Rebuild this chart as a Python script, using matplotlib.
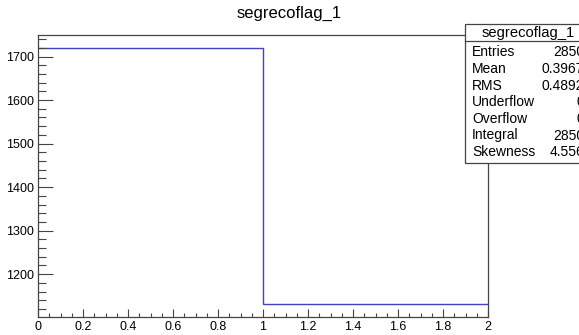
import matplotlib
matplotlib.use('Agg')
import matplotlib.pyplot as plt
from matplotlib.ticker import MultipleLocator
import numpy as np

plt.rcParams['font.family'] = ['Liberation Sans', 'DejaVu Sans']

# histogram contents
bin_edges = [0, 1, 2]
bin_counts = [1720, 1131]
hist_name = 'segrecoflag_1'
stat_names = ['Entries', 'Mean', 'RMS', 'Underflow', 'Overflow', 'Integral', 'Skewness']
stat_values = ['2850', '0.3967', '0.4892', '0', '0', '2850', '4.556']

W, H = 579, 335
fig = plt.figure(figsize=(W / 100, H / 100), dpi=100)
ax = fig.add_axes([38 / W, (H - 317) / H, (488 - 38) / W, (317 - 35) / H])

ax.stairs(bin_counts, bin_edges, baseline=None, color='#4040c8', linewidth=1)

lo, hi = min(bin_counts), max(bin_counts)
margin = 0.05 * (hi - lo)
ax.set_xlim(bin_edges[0], bin_edges[-1])
ax.set_ylim(lo - margin, hi + margin)

ax.xaxis.set_major_locator(MultipleLocator(0.2))
ax.xaxis.set_minor_locator(MultipleLocator(0.05))
ax.yaxis.set_major_locator(MultipleLocator(100))
ax.yaxis.set_minor_locator(MultipleLocator(20))
ax.xaxis.set_major_formatter(plt.FuncFormatter(lambda v, p: ('%g' % v)))

ax.tick_params(axis='y', which='major', direction='in', length=11, width=0.8,
               color='#444444', labelsize=9, pad=3, right=False)
ax.tick_params(axis='y', which='minor', direction='in', length=5.5, width=0.8,
               color='#444444', right=False)
ax.tick_params(axis='x', which='major', direction='in', length=5.5, width=0.8,
               color='#444444', labelsize=9, pad=3, top=False)
ax.tick_params(axis='x', which='minor', direction='in', length=3, width=0.8,
               color='#444444', top=False)
for s in ax.spines.values():
    s.set_color('#444444')
    s.set_linewidth(0.9)

fig.text(289 / W, 1 - 13 / H, hist_name, ha='center', va='center', fontsize=12)

# stats box, runs past the right edge of the canvas
bx0, by0, bx1, by1 = 465, 24, 595, 163
box = plt.Rectangle((bx0 / W, 1 - by1 / H), (bx1 - bx0) / W, (by1 - by0) / H,
                    transform=fig.transFigure, facecolor='white',
                    edgecolor='#444444', linewidth=0.9, zorder=5)
fig.add_artist(box)
fig.add_artist(plt.Line2D([bx0 / W, bx1 / W], [1 - 41 / H, 1 - 41 / H],
                          transform=fig.transFigure, color='#444444',
                          linewidth=0.9, zorder=6))
fig.text(528 / W, 1 - 33 / H, hist_name, ha='center', va='center',
         fontsize=10.6, zorder=7)
for i, (n, v) in enumerate(zip(stat_names, stat_values)):
    y = 1 - (52.5 + i * 16.6) / H
    fig.text(472 / W, y, n, ha='left', va='center', fontsize=10, zorder=7)
    fig.text(584 / W, y, v, ha='right', va='center', fontsize=10, zorder=7)

fig.savefig('out.png', dpi=100)
